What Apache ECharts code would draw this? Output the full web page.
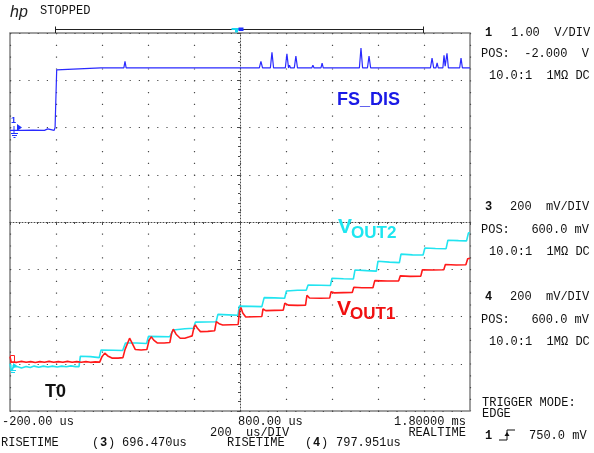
<!DOCTYPE html>
<html>
<head>
<meta charset="utf-8">
<script src="https://cdn.jsdelivr.net/npm/echarts@6/dist/echarts.min.js"></script>
<style>
html, body { margin: 0; padding: 0; background: #fff; }
#scope { width: 594px; height: 453px; }
</style>
</head>
<body>
<div id="scope"></div>
<script>
// traces, [time in us, volts]
// channel 1 : FS_DIS
var fsDis = [
    [-200, -0.06], [-150, -0.06], [-100, -0.055], [-50, -0.06], [-46, -0.03], [-36, -0.03], [-33, -0.06],
    [-8, -0.06], [-4, 0.0], [0, 0.0], [3, 1.22], [8, 1.26],
    [195, 1.26], [200, 1.29], [205, 1.26],
    [295, 1.26], [300, 1.40], [305, 1.26],
    [338, 1.26], [343, 1.23], [348, 1.26],
    [373, 1.26], [378, 1.23], [383, 1.26],
    [425, 1.26], [430, 1.23], [435, 1.26],
    [452, 1.26], [457, 1.29], [462, 1.26],
    [547, 1.26], [552, 1.23], [557, 1.26],
    [578, 1.26], [583, 1.22], [588, 1.26],
    [634, 1.26], [639, 1.29], [644, 1.26],
    [743, 1.26], [748, 1.22], [753, 1.26],
    [884, 1.26], [891, 1.40], [898, 1.26],
    [932, 1.26], [939, 1.59], [946, 1.26],
    [997, 1.26], [1004, 1.56], [1011, 1.26], [1015, 1.32], [1020, 1.26],
    [1036, 1.26], [1043, 1.51], [1050, 1.26],
    [1112, 1.26], [1117, 1.32], [1122, 1.26],
    [1152, 1.26], [1157, 1.36], [1162, 1.26],
    [1282, 1.26], [1287, 1.30], [1292, 1.26],
    [1319, 1.26], [1326, 1.68], [1333, 1.26],
    [1354, 1.26], [1361, 1.51], [1368, 1.26],
    [1425, 1.26], [1430, 1.30], [1435, 1.26],
    [1460, 1.26], [1465, 1.29], [1470, 1.26],
    [1628, 1.26], [1635, 1.47], [1642, 1.26],
    [1652, 1.26], [1657, 1.37], [1662, 1.26],
    [1682, 1.26], [1687, 1.53], [1692, 1.30], [1700, 1.57], [1706, 1.26],
    [1755, 1.26], [1761, 1.47], [1767, 1.26], [1770, 1.30], [1774, 1.26],
    [1800, 1.26]
];

// channel 3 : VOUT2
var vout2 = [
    [-200, 0.00], [-197, -0.02], [-192, -0.03], [-186, -0.015], [-170, -0.012], [-150, -0.018],
    [-130, -0.012], [-112, -0.016], [-95, -0.01], [-75, -0.015], [-55, -0.01], [-35, -0.014],
    [-15, -0.01], [5, -0.014], [25, -0.01], [45, -0.013], [65, -0.009], [85, -0.012], [100, -0.012],
    [106, 0.032], [150, 0.030], [188, 0.026],
    [196, 0.058], [250, 0.057], [290, 0.056],
    [302, 0.088], [350, 0.088], [394, 0.086],
    [402, 0.116], [450, 0.115], [494, 0.114],
    [510, 0.143], [560, 0.148], [598, 0.150],
    [606, 0.176], [650, 0.177], [696, 0.178],
    [704, 0.209], [750, 0.207], [791, 0.205],
    [797, 0.244], [850, 0.243], [895, 0.242],
    [905, 0.280], [950, 0.279], [994, 0.277],
    [1002, 0.308], [1050, 0.311], [1088, 0.311],
    [1096, 0.333], [1150, 0.332], [1193, 0.331],
    [1200, 0.362], [1250, 0.360], [1293, 0.359],
    [1300, 0.397], [1350, 0.394], [1393, 0.392],
    [1400, 0.434], [1450, 0.430], [1493, 0.428],
    [1500, 0.464], [1550, 0.461], [1596, 0.460],
    [1604, 0.490], [1650, 0.488], [1696, 0.487],
    [1704, 0.523], [1750, 0.521], [1785, 0.520],
    [1793, 0.553], [1800, 0.556]
];

// channel 4 : VOUT1
var vout1 = [
    [-200, 0.03], [-197, 0.03], [-195, 0.008], [-170, 0.006], [-150, 0.010], [-130, 0.006],
    [-110, 0.009], [-90, 0.005], [-70, 0.009], [-50, 0.006], [-30, 0.010], [-10, 0.006],
    [10, 0.009], [30, 0.006], [50, 0.010], [70, 0.006], [90, 0.009], [110, 0.006],
    [130, 0.009], [150, 0.006], [170, 0.008], [190, 0.007],
    [200, 0.030], [212, 0.045], [225, 0.033], [243, 0.024], [270, 0.024], [291, 0.026],
    [300, 0.060], [320, 0.108], [332, 0.085], [345, 0.060], [370, 0.058], [395, 0.060],
    [405, 0.100], [414, 0.114], [425, 0.100], [440, 0.088], [470, 0.088], [495, 0.090],
    [503, 0.130], [510, 0.146], [522, 0.125], [540, 0.108], [560, 0.108], [580, 0.114], [592, 0.118],
    [600, 0.155], [606, 0.164], [615, 0.150], [628, 0.136], [660, 0.137], [690, 0.140],
    [697, 0.178], [703, 0.185], [712, 0.168], [725, 0.164], [760, 0.165], [792, 0.166],
    [798, 0.225], [804, 0.238], [812, 0.215], [825, 0.198], [860, 0.199], [895, 0.200],
    [900, 0.232], [912, 0.225], [950, 0.226], [988, 0.227],
    [995, 0.256], [1010, 0.248], [1050, 0.247], [1085, 0.248],
    [1091, 0.290], [1102, 0.278], [1150, 0.277], [1190, 0.278],
    [1196, 0.305], [1210, 0.300], [1250, 0.301], [1288, 0.302],
    [1295, 0.324], [1330, 0.322], [1378, 0.322],
    [1386, 0.352], [1440, 0.350], [1490, 0.351],
    [1497, 0.372], [1540, 0.370], [1586, 0.371],
    [1593, 0.398], [1640, 0.397], [1686, 0.398],
    [1693, 0.420], [1740, 0.418], [1782, 0.419],
    [1790, 0.444], [1800, 0.447]
];

// channel settings (V/DIV and POS from the side panel)
var ch1 = { scale: 1.0, pos: -2.0 };
var ch34 = { scale: 0.2, pos: 0.6 };
var timeStart = -200, timeEnd = 1800, timeDiv = 200;

var chart = echarts.init(document.getElementById('scope'));

var MONO = '12px "Liberation Mono", "DejaVu Sans Mono", monospace';
var MONO_B = 'bold 12px "Liberation Mono", "DejaVu Sans Mono", monospace';
var DOT = '#4a4a4a';

function label(x, y, text, font, color, align) {
    return {
        type: 'text', x: x, y: y, silent: true, z: 10,
        style: {
            text: text, font: font || MONO, fill: color || '#111',
            textAlign: align || 'left', textVerticalAlign: 'middle'
        }
    };
}
function seg(x1, y1, x2, y2, color, w) {
    return { type: 'line', silent: true, z: 10, shape: { x1: x1, y1: y1, x2: x2, y2: y2 }, style: { stroke: color, lineWidth: w || 1 } };
}

var graphics = [
    // header
    label(10, 13, 'hp', 'italic 16px "Liberation Sans", sans-serif', '#222'),
    label(40, 11, 'STOPPED'),
    // acquisition bar above the graticule
    seg(56, 29.5, 424, 29.5, '#222', 1),
    seg(55.5, 26.5, 55.5, 33, '#222', 1),
    seg(423.5, 26.5, 423.5, 33, '#222', 1),
    { type: 'polygon', silent: true, z: 11, shape: { points: [[231.5, 28], [240, 28], [240, 30], [238, 30], [238, 32.5], [235, 32.5], [235, 30], [231.5, 30]] }, style: { fill: '#18d8ee' } },
    { type: 'rect', silent: true, z: 11, shape: { x: 238.5, y: 27.5, width: 5, height: 3.5 }, style: { fill: '#2030ff' } },

    // channel 1 ground marker
    label(11, 121, '1', 'bold 9px "Liberation Sans", sans-serif', '#2030ff'),
    { type: 'polygon', silent: true, z: 10, shape: { points: [[17, 124], [22, 127.5], [17, 131]] }, style: { fill: '#2030ff' } },
    seg(14, 126, 14, 133, '#2030ff', 1),
    seg(11, 133.5, 18, 133.5, '#2030ff', 1),
    seg(12, 135.5, 17, 135.5, '#2030ff', 1),
    seg(13.5, 137.5, 15.5, 137.5, '#2030ff', 1),
    // channel 3 ground marker
    { type: 'polygon', silent: true, z: 10, shape: { points: [[13, 363], [17, 365.5], [13, 368]] }, style: { fill: '#18d8ee' } },
    seg(12, 365, 12, 370, '#18d8ee', 1),
    seg(10, 370.5, 16, 370.5, '#18d8ee', 1),
    seg(11, 372.5, 15, 372.5, '#18d8ee', 1),
    // channel 4 marker
    { type: 'rect', silent: true, z: 10, shape: { x: 10.5, y: 355.5, width: 4, height: 7 }, style: { fill: 'none', stroke: '#ff2020', lineWidth: 1 } },

    // trace names
    label(337, 100, 'FS_DIS', 'bold 18px "Liberation Sans", Arial, sans-serif', '#1a1ae6'),
    label(338, 227, 'V', 'bold 21px "Liberation Sans", Arial, sans-serif', '#1ee6f0'),
    label(351, 233, 'OUT2', 'bold 17px "Liberation Sans", Arial, sans-serif', '#1ee6f0'),
    label(337, 309, 'V', 'bold 21px "Liberation Sans", Arial, sans-serif', '#f01010'),
    label(350, 314, 'OUT1', 'bold 17px "Liberation Sans", Arial, sans-serif', '#f01010'),
    label(45, 392, 'T0', 'bold 18px "Liberation Sans", Arial, sans-serif', '#111'),

    // side panel
    label(485, 33, '1', MONO_B), label(511, 33, '1.00  V/DIV'),
    label(481, 54, 'POS:  -2.000  V'),
    label(489, 76, '10.0:1  1M\u03a9 DC'),
    label(485, 207, '3', MONO_B), label(510, 207, '200  mV/DIV'),
    label(481, 230, 'POS:   600.0 mV'),
    label(489, 252, '10.0:1  1M\u03a9 DC'),
    label(485, 297, '4', MONO_B), label(510, 297, '200  mV/DIV'),
    label(481, 320, 'POS:   600.0 mV'),
    label(489, 342, '10.0:1  1M\u03a9 DC'),
    label(482, 403, 'TRIGGER MODE:'),
    label(482, 414, 'EDGE'),
    label(485, 436, '1', MONO_B),
    { type: 'polyline', silent: true, z: 10, shape: { points: [[499, 440], [507, 440], [507, 430], [515, 430]] }, style: { stroke: '#111', lineWidth: 1, fill: 'none' } },
    { type: 'polygon', silent: true, z: 10, shape: { points: [[504.5, 436], [507, 432], [509.5, 436]] }, style: { fill: '#111' } },
    label(529, 436, '750.0 mV'),

    // time readouts
    label(2, 422, '-200.00 us'),
    label(238, 422, '800.00 us'),
    label(466, 422, '1.80000 ms', MONO, '#111', 'right'),
    label(210, 433, '200  us/DIV'),
    label(466, 433, 'REALTIME', MONO, '#111', 'right'),
    label(1, 443, 'RISETIME'),
    label(92, 443, '('), label(100, 443, '3', MONO_B), label(108, 443, ')'),
    label(122, 443, '696.470us'),
    label(227, 443, 'RISETIME'),
    label(305, 443, '('), label(313, 443, '4', MONO_B), label(321, 443, ')'),
    label(336, 443, '797.951us')
];

var option = {
    animation: false,
    backgroundColor: '#ffffff',
    grid: {
        left: 10, top: 33, width: 460, height: 378,
        show: true, borderColor: '#808080', borderWidth: 1.5
    },
    xAxis: [{
        type: 'value', min: timeStart, max: timeEnd, interval: timeDiv,
        axisLabel: { show: false },
        axisLine: { show: true, onZero: true, onZeroAxisIndex: 0, lineStyle: { color: DOT, width: 1, type: [1, 2] } },
        axisTick: { show: true, length: 3, lineStyle: { color: DOT } },
        minorTick: { show: true, splitNumber: 5, length: 2, lineStyle: { color: DOT } },
        splitLine: { show: true, lineStyle: { color: DOT, width: 1.2, type: [1.2, 10.6] } }
    }, {
        // centred helper scale, only used to put the vertical centre line on zero
        type: 'value', min: -(timeEnd - timeStart) / 2, max: (timeEnd - timeStart) / 2, show: false
    }],
    yAxis: [{
        type: 'value', min: -4, max: 4, interval: 1, position: 'left',
        axisLabel: { show: false },
        axisLine: { show: true, onZero: true, onZeroAxisIndex: 1, lineStyle: { color: DOT, width: 1, type: [1, 2] } },
        axisTick: { show: true, length: 3, lineStyle: { color: DOT } },
        minorTick: { show: true, splitNumber: 5, length: 2, lineStyle: { color: DOT } },
        splitLine: { show: true, lineStyle: { color: DOT, width: 1.2, type: [1.2, 8] } }
    }, {
        type: 'value', position: 'left', show: false,
        min: ch1.pos - 4 * ch1.scale, max: ch1.pos + 4 * ch1.scale
    }, {
        type: 'value', position: 'left', show: false,
        min: ch34.pos - 4 * ch34.scale, max: ch34.pos + 4 * ch34.scale
    }],
    series: [{
        name: 'FS_DIS', type: 'line', xAxisIndex: 0, yAxisIndex: 1,
        data: fsDis, showSymbol: false, symbol: 'none', silent: true, z: 5,
        lineStyle: { color: '#2a2aff', width: 1.2 }
    }, {
        name: 'VOUT2', type: 'line', xAxisIndex: 0, yAxisIndex: 2,
        data: vout2, showSymbol: false, symbol: 'none', silent: true, z: 4,
        lineStyle: { color: '#22e4f0', width: 1.6 }
    }, {
        name: 'VOUT1', type: 'line', xAxisIndex: 0, yAxisIndex: 2,
        data: vout1, showSymbol: false, symbol: 'none', silent: true, z: 4,
        lineStyle: { color: '#ff1a1a', width: 1.6 }
    }],
    graphic: graphics
};

chart.setOption(option);
</script>
</body>
</html>
